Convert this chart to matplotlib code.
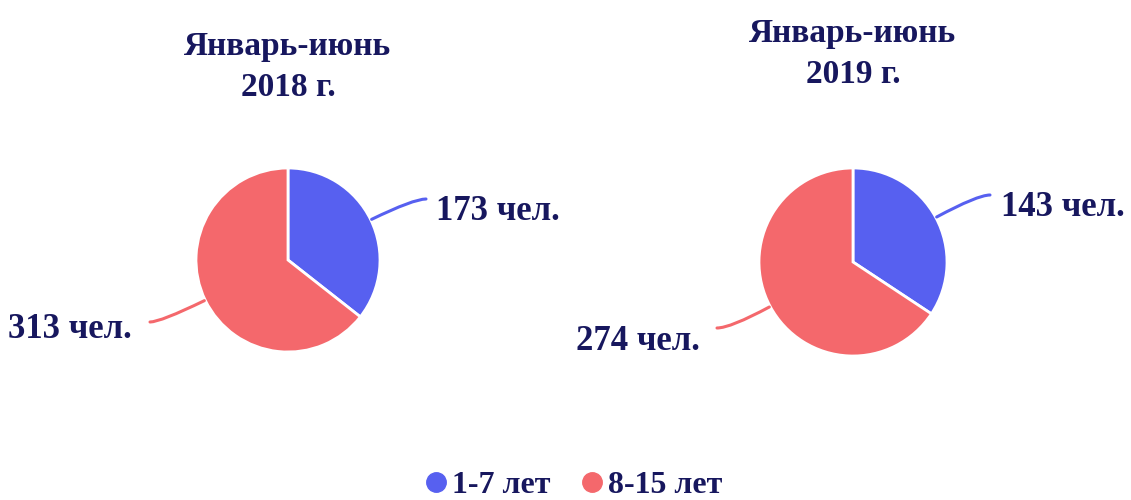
import numpy as np
import matplotlib.pyplot as plt
from matplotlib.lines import Line2D

# data
groups = ['1-7 лет', '8-15 лет']
titles = ['Январь-июнь\n2018 г.', 'Январь-июнь\n2019 г.']
values_2018 = [173, 313]
values_2019 = [143, 274]

colors = ['#5760F0', '#F4686C']
text_color = '#17175E'
font = ['Liberation Serif', 'DejaVu Serif']

W, H = 1131, 500
fig = plt.figure(figsize=(W / 100, H / 100), dpi=100)
ax = fig.add_axes([0, 0, 1, 1])


def y(py):
   # pixel row (from top) to axes y
   return H - py


def draw_pie(values, title, cx, cy, r, title_y, lab_pos):
   ax.pie(values, colors=colors, startangle=90, counterclock=False,
          center=(cx, y(cy)), radius=r, frame=True,
          wedgeprops=dict(edgecolor='white', linewidth=2))
   ax.text(cx, y(title_y), title, ha='center', va='center', fontsize=24,
           fontweight='bold', color=text_color, family=font, linespacing=1.45)
   total = sum(values)
   start = 90.
   for i, v in enumerate(values):
      span = 360. * v / total
      mid = start - span / 2
      start -= span
      p0 = (cx + (r + 1) * np.cos(np.deg2rad(mid)), y(cy) + (r + 1) * np.sin(np.deg2rad(mid)))
      (lx, ly), (tx, ty) = lab_pos[i]
      ax.annotate('', xy=p0, xytext=(lx, y(ly)),
                  arrowprops=dict(arrowstyle='-', color=colors[i], lw=2.2,
                                  shrinkA=0, shrinkB=0,
                                  connectionstyle='angle3,angleA=0,angleB=%.1f' % mid))
      ax.text(tx, y(ty), '%d чел.' % v, ha='left', va='center', fontsize=25,
              fontweight='bold', color=text_color, family=font)


draw_pie(values_2018, titles[0], 288, 260, 92, 67,
         [((426, 199), (436, 211)),
          ((150, 322), (8, 329))])
draw_pie(values_2019, titles[1], 853, 262, 94, 54,
         [((990, 195), (1001, 208)),
          ((717, 328), (576, 341))])

ax.set_xlim(0, W)
ax.set_ylim(0, H)
ax.set_aspect('equal')
ax.axis('off')

handles = [Line2D([], [], marker='o', linestyle='', markersize=14,
                  markerfacecolor=c, markeredgecolor=c) for c in colors]
leg = fig.legend(handles, groups, loc='center', bbox_to_anchor=(574 / W, 1 - 485 / H),
                 ncol=2, frameon=False, handlelength=0.6, handletextpad=0.2,
                 columnspacing=1.0, borderpad=0.1,
                 prop=dict(family='Liberation Serif', weight='bold', size=23))
for t in leg.get_texts():
   t.set_color(text_color)

fig.savefig('out.png', dpi=100)
